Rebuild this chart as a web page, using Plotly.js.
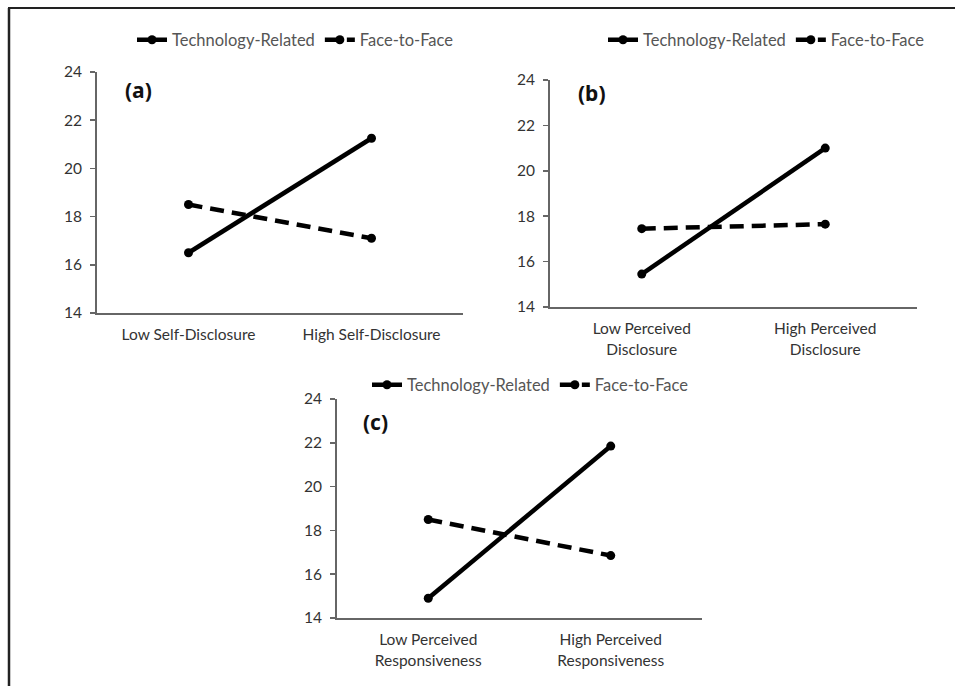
<!DOCTYPE html>
<html>
<head>
<meta charset="utf-8">
<script src="https://cdn.plot.ly/plotly-3.0.1.min.js"></script>
<style>
html,body{margin:0;padding:0;background:#fff;}
#chart{width:955px;height:686px;}
</style>
</head>
<body>
<div id="chart"></div>
<script>
// ---- Data ----
var seriesNames = ['Technology-Related', 'Face-to-Face'];

var categoriesA = ['Low Self-Disclosure', 'High Self-Disclosure'];
var techA = [16.5, 21.25];
var f2fA = [18.5, 17.1];

var categoriesB = ['Low Perceived<br>Disclosure', 'High Perceived<br>Disclosure'];
var techB = [15.45, 21.0];
var f2fB = [17.45, 17.65];

var categoriesC = ['Low Perceived<br>Responsiveness', 'High Perceived<br>Responsiveness'];
var techC = [14.9, 21.85];
var f2fC = [18.5, 16.85];

var yTicks = [14, 16, 18, 20, 22, 24];
var panelLabels = ['(a)', '(b)', '(c)'];

// ---- Helpers ----
var W = 955, H = 686;
function px(x) { return x / W; }
function py(y) { return 1 - y / H; }

var tickFont = {family: 'Lato, "Open Sans", sans-serif', size: 15.5, color: '#333'};
var legendFont = {family: 'Lato, "Open Sans", sans-serif', size: 16.5, color: '#555'};

function mkTrace(xs, ys, name, dashed, xa, ya, legendId) {
  return {
    x: xs, y: ys, name: name, type: 'scatter', mode: 'lines+markers',
    xaxis: xa, yaxis: ya, legend: legendId, showlegend: true,
    line: {color: '#000', width: 4.5, dash: dashed ? '14px,8px' : 'solid'},
    marker: {color: '#000', size: 9, symbol: 'circle'},
    hoverinfo: 'x+y'
  };
}

var data = [
  mkTrace(categoriesA, techA, seriesNames[0], false, 'x', 'y', 'legend'),
  mkTrace(categoriesA, f2fA, seriesNames[1], true, 'x', 'y', 'legend'),
  mkTrace(categoriesB, techB, seriesNames[0], false, 'x2', 'y2', 'legend2'),
  mkTrace(categoriesB, f2fB, seriesNames[1], true, 'x2', 'y2', 'legend2'),
  mkTrace(categoriesC, techC, seriesNames[0], false, 'x3', 'y3', 'legend3'),
  mkTrace(categoriesC, f2fC, seriesNames[1], true, 'x3', 'y3', 'legend3')
];

function xAxis(domain, anchor) {
  return {
    domain: domain, anchor: anchor, type: 'category', range: [-0.5, 1.5],
    showline: true, linecolor: '#666', linewidth: 1.8, showgrid: false, zeroline: false,
    ticks: '', tickfont: tickFont, ticklabelstandoff: 7, fixedrange: true, automargin: false
  };
}
function yAxis(domain, anchor) {
  return {
    domain: domain, anchor: anchor, range: [14, 24], tickvals: yTicks,
    showline: true, linecolor: '#666', linewidth: 1.8, showgrid: false, zeroline: false,
    ticks: 'outside', ticklen: 5, tickwidth: 1.5, tickcolor: '#666',
    tickfont: tickFont, ticklabelstandoff: 5, fixedrange: true, automargin: false
  };
}

function legendAt(x, y) {
  return {
    orientation: 'h', x: px(x), y: py(y), xanchor: 'left', yanchor: 'middle',
    font: legendFont, bgcolor: 'rgba(0,0,0,0)', borderwidth: 0,
    itemclick: false, itemdoubleclick: false
  };
}

var labelFont = {family: '"Noto Sans", "Open Sans", sans-serif', size: 21, color: '#111', weight: 'bold'};

var layout = {
  width: W, height: H,
  margin: {l: 0, r: 0, t: 0, b: 0, autoexpand: false},
  paper_bgcolor: '#fff', plot_bgcolor: 'rgba(0,0,0,0)',
  showlegend: true,
  xaxis: xAxis([px(97), px(463)], 'y'),
  yaxis: yAxis([py(313), py(72)], 'x'),
  xaxis2: xAxis([px(550), px(917)], 'y2'),
  yaxis2: yAxis([py(307), py(80)], 'x2'),
  xaxis3: xAxis([px(337), px(702)], 'y3'),
  yaxis3: yAxis([py(618), py(399)], 'x3'),
  legend: legendAt(132, 40),
  legend2: legendAt(603, 40),
  legend3: legendAt(367, 385),
  annotations: [
    {text: '<b>' + panelLabels[0] + '</b>', xref: 'paper', yref: 'paper', x: px(123), y: py(90), xanchor: 'left', yanchor: 'middle', showarrow: false, font: labelFont},
    {text: '<b>' + panelLabels[1] + '</b>', xref: 'paper', yref: 'paper', x: px(576), y: py(93), xanchor: 'left', yanchor: 'middle', showarrow: false, font: labelFont},
    {text: '<b>' + panelLabels[2] + '</b>', xref: 'paper', yref: 'paper', x: px(361), y: py(422), xanchor: 'left', yanchor: 'middle', showarrow: false, font: labelFont}
  ],
  shapes: [
    {type: 'line', xref: 'paper', yref: 'paper', x0: px(8), x1: 1, y0: py(8), y1: py(8), line: {color: '#222', width: 2}},
    {type: 'line', xref: 'paper', yref: 'paper', x0: px(9), x1: px(9), y0: py(8), y1: 0, line: {color: '#222', width: 2.5}}
  ]
};

Plotly.newPlot('chart', data, layout, {displayModeBar: false, staticPlot: true});
</script>
</body>
</html>
